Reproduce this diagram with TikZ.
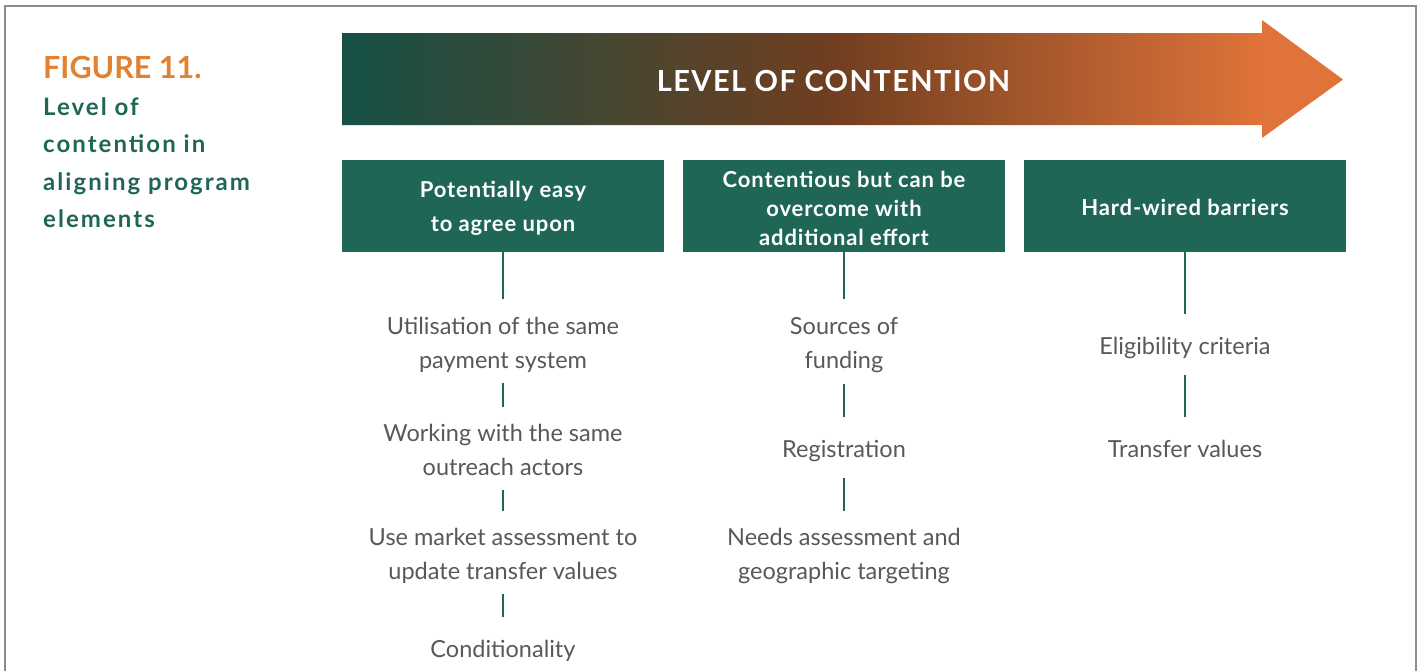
\documentclass[tikz,border=0pt]{standalone}
\usepackage{fontspec}
\setmainfont{Lato}
\definecolor{teal}{RGB}{31,102,87}
\definecolor{itemgray}{RGB}{88,88,88}
\definecolor{figorange}{RGB}{224,130,48}
\definecolor{framegray}{RGB}{140,140,140}
\definecolor{gA}{RGB}{21,80,70}
\definecolor{gB}{RGB}{112,62,32}
\definecolor{gC}{RGB}{224,115,57}
\pgfdeclarehorizontalshading{contention}{100bp}{color(0bp)=(gA); color(25bp)=(gA); color(49.4bp)=(gB); color(71bp)=(gC); color(100bp)=(gC)}
\newcommand\ist{\rule[-8pt]{0pt}{28pt}}
\newcommand\bsA{\rule[-2pt]{0pt}{22pt}}
\newcommand\bsB{\rule[-1pt]{0pt}{22pt}}
\newcommand\tst{\rule[-8pt]{0pt}{28pt}}
\tikzset{
  item/.style={font=\fontsize{23.5pt}{34pt}\selectfont, text=itemgray, align=center, inner sep=0pt, anchor=north},
  levelbox/.style={fill=teal, text=white, font=\fontsize{22pt}{34pt}\selectfont\bfseries\addfontfeature{LetterSpace=4}, align=center, minimum width=322pt, minimum height=92pt, inner sep=0pt},
  conn/.style={draw=teal, line width=2.4pt},
}
\begin{document}
\begin{tikzpicture}[x=1pt,y=-1pt]
\useasboundingbox (0,0) rectangle (1423,670);
% frame
\draw[framegray, line width=2pt] (5,675) -- (5,6) -- (1416,6) -- (1416,675);
% title
\node[anchor=base west, inner sep=0pt, text=figorange, font=\fontsize{30.5pt}{34pt}\selectfont\bfseries] (fig) at (43,78) {FIGURE 11.};
\node[anchor=north west, inner sep=0pt, text=teal, align=left, font=\fontsize{24pt}{37.4pt}\selectfont\bfseries\addfontfeature{LetterSpace=8.5}] (title) at (43,95) {\tst Level of\\\tst contention in\\\tst aligning program\\\tst elements};
% arrow
\path[shading=contention] (342,33) -- (1262,33) -- (1262,20) -- (1343,79.5) -- (1262,138) -- (1262,125) -- (342,125) -- cycle;
\node[anchor=base, inner sep=0pt, text=white, font=\fontsize{29pt}{34pt}\selectfont\bfseries\addfontfeature{LetterSpace=5}] (lvl) at (833.5,91.5) {LEVEL OF CONTENTION};
% boxes
\node[levelbox] (b1) at (503,206) {\bsA Potentially easy\\\bsA to agree upon};
\node[levelbox, font=\fontsize{22pt}{29pt}\selectfont\bfseries\addfontfeature{LetterSpace=4}] (b2) at (844,206) {\bsB Contentious but can be\\\bsB overcome with\\\bsB additional effort};
\node[levelbox] (b3) at (1185,206) {\bsA Hard-wired barriers};
% column 1
\node[item] (i11) at (503,314) {\ist Utilisation of the same\\\ist payment system};
\node[item] (i12) at (503,421) {\ist Working with the same\\\ist outreach actors};
\node[item] (i13) at (503,525) {\ist Use market assessment to\\\ist update transfer values};
\node[item] (i14) at (503,637) {\ist Conditionality};
% column 2
\node[item] (i21) at (844,314) {\ist Sources of\\\ist funding};
\node[item] (i22) at (844,437) {\ist Registration};
\node[item] (i23) at (844,525) {\ist Needs assessment and\\\ist geographic targeting};
% column 3
\node[item] (i31) at (1185,334) {\ist Eligibility criteria};
\node[item] (i32) at (1185,437) {\ist Transfer values};
% connectors
\draw[conn, shorten >=15pt] (b1.south) -- (i11.north);
\draw[conn, shorten <=7pt, shorten >=14pt] (i11.south) -- (i12.north);
\draw[conn, shorten <=7pt, shorten >=14pt] (i12.south) -- (i13.north);
\draw[conn, shorten <=7pt, shorten >=20pt] (i13.south) -- (i14.north);
\draw[conn, shorten >=15pt] (b2.south) -- (i21.north);
\draw[conn, shorten <=8pt, shorten >=20pt] (i21.south) -- (i22.north);
\draw[conn, shorten <=13pt, shorten >=14pt] (i22.south) -- (i23.north);
\draw[conn, shorten >=20pt] (b3.south) -- (i31.north);
\draw[conn, shorten <=13pt, shorten >=20pt] (i31.south) -- (i32.north);
\end{tikzpicture}
\end{document}
